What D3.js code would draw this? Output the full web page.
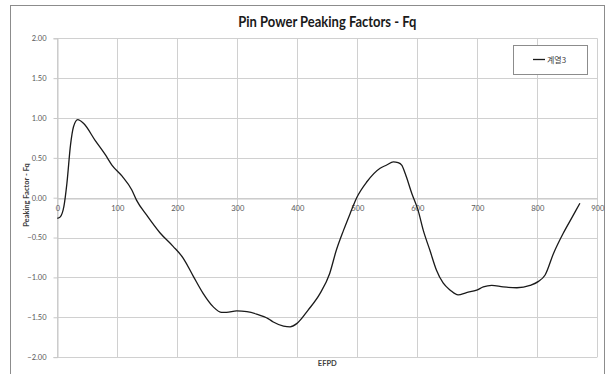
<!DOCTYPE html>
<html><head><meta charset="utf-8">
<script src="https://cdn.jsdelivr.net/npm/d3@7"></script>
<style>html,body{margin:0;padding:0;background:#fff;}svg{display:block;}</style>
</head><body>
<svg id="chart" width="612" height="374"></svg>
<script>
const title = "Pin Power Peaking Factors - Fq";
const xTitle = "EFPD";
const yTitle = "Peaking Factor - Fq";
const seriesName = "계열3";
const xTicks = [0,100,200,300,400,500,600,700,800,900];
const yTicks = [2.00,1.50,1.00,0.50,0.00,-0.50,-1.00,-1.50,-2.00];
const efpd = [0,5,11,16,22,27,34,44,63,80,91,108,124,132,149,171,193,210,227,243,260,274,282,299,316,332,352,360,377,388,399,418,438,454,465,477,488,499,516,538,549,560,568,574,580,591,601,610,621,632,643,655,668,682,699,710,724,743,766,788,802,813,827,843,857,871];
const fq = [-0.26,-0.24,-0.11,0.18,0.66,0.89,0.98,0.93,0.72,0.54,0.41,0.27,0.10,-0.03,-0.22,-0.44,-0.61,-0.76,-0.99,-1.20,-1.37,-1.44,-1.44,-1.42,-1.43,-1.46,-1.52,-1.56,-1.61,-1.62,-1.58,-1.41,-1.20,-0.95,-0.66,-0.41,-0.20,0.00,0.20,0.37,0.41,0.45,0.44,0.41,0.30,0.05,-0.15,-0.41,-0.66,-0.91,-1.07,-1.16,-1.22,-1.19,-1.16,-1.12,-1.10,-1.12,-1.13,-1.10,-1.05,-0.97,-0.70,-0.45,-0.26,-0.07];

const svg = d3.select("#chart");
const L = 57.3, R = 597.3, T = 38.3, B = 357.1;
const x = d3.scaleLinear().domain([0,900]).range([L,R]);
const y = d3.scaleLinear().domain([-2,2]).range([B,T]);
const font = "Lato, 'Noto Sans', sans-serif";

// outer chart border
svg.append("rect").attr("x",10.5).attr("y",5.5).attr("width",594).attr("height",380)
  .attr("fill","#fff").attr("stroke","#8c8c8c").attr("stroke-width",1);

// gridlines
const grid = svg.append("g").attr("stroke","#d0d0d0").attr("stroke-width",1);
grid.selectAll("line.h").data(yTicks).join("line")
  .attr("x1",L).attr("x2",R).attr("y1",d=>Math.round(y(d))+0.5).attr("y2",d=>Math.round(y(d))+0.5);
grid.selectAll("line.v").data(xTicks).join("line")
  .attr("y1",T).attr("y2",B).attr("x1",d=>Math.round(x(d))+0.5).attr("x2",d=>Math.round(x(d))+0.5);

// y axis
const yAxis = d3.axisLeft(y).tickValues(yTicks).tickFormat(d3.format(".2f")).tickSize(4).tickPadding(7);
const gy = svg.append("g").attr("transform",`translate(${Math.round(L)+0.5},0)`).call(yAxis);
gy.select(".domain").attr("stroke","#c8c8c8");
gy.selectAll(".tick line").attr("stroke","#c8c8c8");
gy.selectAll("text").attr("font-family",font).attr("font-size",7.5).attr("fill","#595959");

// x axis at zero
const xAxis = d3.axisBottom(x).tickValues(xTicks).tickFormat(d3.format("d")).tickSize(0).tickPadding(7);
const gx = svg.append("g").attr("transform",`translate(0,${Math.round(y(0))+0.5})`).call(xAxis);
gx.select(".domain").attr("stroke","#c8c8c8");
gx.selectAll("text").attr("font-family",font).attr("font-size",7.5).attr("fill","#595959");

// line
const data = efpd.map((d,i)=>({x:d,y:fq[i]}));
svg.append("path").datum(data)
  .attr("fill","none").attr("stroke","#1a1a1a").attr("stroke-width",1.3)
  .attr("d", d3.line().x(d=>x(d.x)).y(d=>y(d.y)).curve(d3.curveMonotoneX));

// title
svg.append("text").attr("x",(L+R)/2).attr("y",27).attr("text-anchor","middle")
  .attr("font-family",font).attr("font-weight","bold").attr("font-size",15).attr("fill","#1a1a1a")
  .attr("textLength",178).attr("lengthAdjust","spacingAndGlyphs").text(title);

// axis titles
svg.append("text").attr("x",(L+R)/2).attr("y",366).attr("text-anchor","middle")
  .attr("font-family",font).attr("font-weight","bold").attr("font-size",7.5).attr("fill","#404040").text(xTitle);
svg.append("text").attr("transform",`translate(29,195) rotate(-90)`).attr("text-anchor","middle")
  .attr("font-family",font).attr("font-weight","bold").attr("font-size",7.5).attr("fill","#404040").text(yTitle);

// legend
const lg = svg.append("g");
lg.append("rect").attr("x",513.5).attr("y",45.5).attr("width",74).attr("height",29)
  .attr("fill","#fff").attr("stroke","#8c8c8c").attr("stroke-width",1);
lg.append("line").attr("x1",533).attr("x2",545).attr("y1",59.5).attr("y2",59.5)
  .attr("stroke","#1a1a1a").attr("stroke-width",1.3);
lg.append("text").attr("x",547).attr("y",62.5).attr("font-family","'Noto Sans CJK KR', sans-serif")
  .attr("font-size",8).attr("fill","#404040").text(seriesName);
</script>
</body></html>
